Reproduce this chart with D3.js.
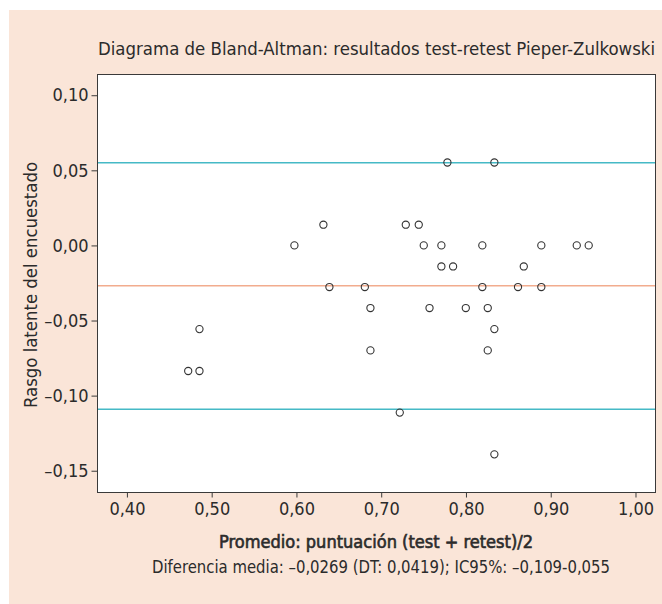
<!DOCTYPE html>
<html>
<head>
<meta charset="utf-8">
<script src="https://cdn.jsdelivr.net/npm/d3@7"></script>
<style>
  html, body { margin: 0; padding: 0; background: #ffffff; }
  svg { display: block; }
  text { font-family: "Liberation Sans Narrow", "DejaVu Sans Condensed", "Arial Narrow", sans-serif; fill: #2b2b2b; }
</style>
</head>
<body>
<svg id="chart" width="662" height="604"></svg>
<script>
// ---- data ----
const promedio = [0.6318, 0.7290, 0.7443, 0.5976, 0.6389, 0.6807, 0.6873, 0.4856,
                  0.6873, 0.4723, 0.4856, 0.7219, 0.7781, 0.8335, 0.7502, 0.7710,
                  0.8193, 0.8889, 0.9307, 0.9448, 0.7710, 0.7848, 0.8682, 0.8193,
                  0.8614, 0.8889, 0.7570, 0.7998, 0.8257, 0.8335, 0.8257, 0.8335];
const diferencia = [0.0138, 0.0138, 0.0138, 0.0000, -0.0277, -0.0277, -0.0417, -0.0557,
                    -0.0699, -0.0836, -0.0836, -0.1113, 0.0552, 0.0552, 0.0000, 0.0000,
                    0.0000, 0.0000, 0.0000, 0.0000, -0.0140, -0.0140, -0.0140, -0.0277,
                    -0.0277, -0.0277, -0.0417, -0.0417, -0.0417, -0.0557, -0.0699, -0.1391];
const mediaDif = -0.0269;
const limites = [0.055, -0.109];
const xTicks = [0.40, 0.50, 0.60, 0.70, 0.80, 0.90, 1.00];
const yTicks = [0.10, 0.05, 0.00, -0.05, -0.10, -0.15];
const titulo = "Diagrama de Bland-Altman: resultados test-retest Pieper-Zulkowski";
const tituloX = "Promedio: puntuación (test + retest)/2";
const tituloY = "Rasgo latente del encuestado";
const nota = "Diferencia media: \u20130,0269 (DT: 0,0419); IC95%: \u20130,109-0,055";

// ---- layout ----
const svg = d3.select("#chart");
const pL = 97.5, pR = 655.5, pT = 74.5, pB = 492.5;

svg.append("rect").attr("x", 9).attr("y", 10).attr("width", 653).attr("height", 594)
  .attr("fill", "#fae5d8");

const x = d3.scaleLinear().domain([0.3653, 1.0236]).range([pL, pR]);
const y = d3.scaleLinear().domain([-0.1645, 0.1138]).range([pB, pT]);

svg.append("rect").attr("x", pL).attr("y", pT)
  .attr("width", pR - pL).attr("height", pB - pT)
  .attr("fill", "#ffffff").attr("stroke", "#3a3a3a").attr("stroke-width", 1);

const fmt = v => (v < 0 ? "\u2013" : "") + Math.abs(v).toFixed(2).replace(".", ",");

const xAxis = d3.axisBottom(x).tickValues(xTicks).tickSize(5).tickPadding(5).tickFormat(fmt);
const gx = svg.append("g").attr("transform", `translate(0,${pB})`).call(xAxis);
gx.select(".domain").remove();
gx.selectAll(".tick line").attr("stroke", "#3a3a3a");
gx.selectAll(".tick text").attr("font-size", 18).attr("fill", "#2b2b2b")
  .attr("font-family", null);

const yAxis = d3.axisLeft(y).tickValues(yTicks).tickSize(6).tickPadding(3).tickFormat(fmt);
const gy = svg.append("g").attr("transform", `translate(${pL},0)`).call(yAxis);
gy.select(".domain").remove();
gy.selectAll(".tick line").attr("stroke", "#3a3a3a");
gy.selectAll(".tick text").attr("font-size", 18).attr("fill", "#2b2b2b")
  .attr("font-family", null);

const plot = svg.append("g");
plot.selectAll("line.lim").data(limites).join("line")
  .attr("class", "lim")
  .attr("x1", pL + 0.5).attr("x2", pR - 0.5)
  .attr("y1", d => y(d)).attr("y2", d => y(d))
  .attr("stroke", "#45b9c6").attr("stroke-width", 1.5);
plot.append("line")
  .attr("x1", pL + 0.5).attr("x2", pR - 0.5)
  .attr("y1", y(mediaDif)).attr("y2", y(mediaDif))
  .attr("stroke", "#f2ac8e").attr("stroke-width", 1.5);

plot.selectAll("circle").data(promedio.map((p, i) => [p, diferencia[i]])).join("circle")
  .attr("cx", d => x(d[0])).attr("cy", d => y(d[1])).attr("r", 3.6)
  .attr("fill", "none").attr("stroke", "#333333").attr("stroke-width", 1.1);

svg.append("text").attr("x", (pL + pR) / 2).attr("y", 55)
  .attr("text-anchor", "middle").attr("font-size", 18)
  .attr("textLength", 557).attr("lengthAdjust", "spacingAndGlyphs").text(titulo);

svg.append("text").attr("transform", `translate(37,${(162 + 408) / 2}) rotate(-90)`)
  .attr("text-anchor", "middle").attr("font-size", 18)
  .attr("textLength", 246).attr("lengthAdjust", "spacingAndGlyphs").text(tituloY);

svg.append("text").attr("x", 376).attr("y", 548)
  .attr("text-anchor", "middle").attr("font-size", 18)
  .attr("stroke", "#2b2b2b").attr("stroke-width", 0.6)
  .attr("textLength", 314).attr("lengthAdjust", "spacingAndGlyphs").text(tituloX);

svg.append("text").attr("x", 381).attr("y", 573)
  .attr("text-anchor", "middle").attr("font-size", 17)
  .attr("textLength", 458).attr("lengthAdjust", "spacingAndGlyphs").text(nota);
</script>
</body>
</html>
